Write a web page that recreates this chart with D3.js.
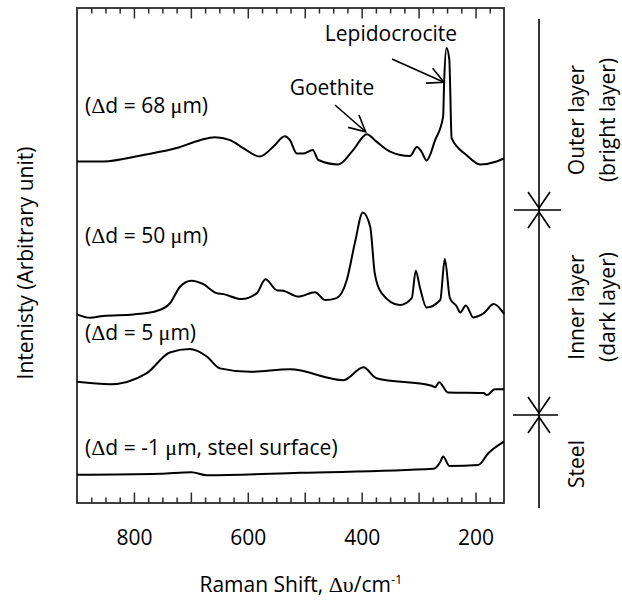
<!DOCTYPE html>
<html>
<head>
<meta charset="utf-8">
<script src="https://cdn.jsdelivr.net/npm/d3@7"></script>
<style>
  html, body { margin: 0; padding: 0; background: #fff; }
  svg { display: block; }
  text { font-family: "Open Sans", sans-serif; fill: #000; }
</style>
</head>
<body>
<svg id="chart" width="622" height="608"></svg>
<script>
// ---------------- data (Raman shift cm^-1, stacked intensity a.u.) ----------------
const seriesLabels = ["68", "50", "5", "-1"];

const spec68 = [
  [900, 69.0], [854, 69.0], [784, 70.3], [725, 71.7], [684, 73.3], [658, 73.9], [631, 73.3],
  [608, 71.7], [579, 70.0], [555, 72.0], [535, 74.1], [526, 73.3], [514, 70.6], [503, 70.6],
  [486, 71.3], [476, 69.3], [441, 68.4], [415, 71.3], [391, 74.5], [374, 73.0], [350, 71.0],
  [315, 70.1], [303, 71.9], [295, 71.0], [286, 69.2], [271, 73.3], [257, 78.0], [255, 85.5],
  [251, 91.9], [246, 89.5], [245, 86.1], [242, 73.7], [216, 70.3], [192, 68.4], [163, 69.0],
  [150, 69.6]
];

const spec50 = [
  [900, 38.1], [877, 37.4], [854, 37.8], [801, 38.1], [760, 38.8], [737, 40.3], [719, 43.7],
  [699, 44.9], [678, 44.2], [655, 42.4], [643, 42.2], [611, 41.2], [584, 42.4], [569, 45.2],
  [549, 43.0], [538, 42.9], [511, 41.7], [482, 42.6], [464, 41.0], [444, 41.4], [426, 45.1],
  [412, 52.5], [398, 58.7], [385, 55.8], [377, 46.4], [365, 42.4], [333, 40.0], [312, 41.4],
  [305, 46.9], [298, 43.7], [286, 39.5], [262, 41.0], [254, 49.3], [245, 41.4], [233, 39.7],
  [227, 38.5], [217, 39.9], [204, 37.5], [186, 38.3], [168, 40.2], [150, 38.2]
];

const spec5 = [
  [900, 24.5], [842, 24.0], [778, 26.2], [737, 30.4], [702, 31.1], [672, 29.6], [649, 27.2],
  [596, 26.5], [526, 27.0], [432, 24.8], [397, 27.4], [374, 25.2], [277, 23.7], [271, 23.4],
  [264, 24.4], [248, 22.3], [186, 22.2], [180, 21.8], [166, 23.0], [150, 23.0]
];

const specSteel = [
  [900, 5.7], [754, 5.9], [699, 6.2], [672, 5.6], [508, 6.1], [274, 6.9], [262, 8.3],
  [257, 9.4], [246, 7.5], [195, 7.7], [178, 10.0], [150, 12.4]
];

const spectra = [spec68, spec50, spec5, specSteel];

const xMajorTicks = [800, 700, 600, 500, 400, 300, 200];
const xTickLabels = [800, 600, 400, 200];
const xMinorTicks = d3.range(175, 900, 25).filter(v => v % 100 !== 0);

// ---------------- layout ----------------
const svg = d3.select("#chart");
const L = 77, R = 504, T = 8, B = 503;

const x = d3.scaleLinear().domain([900, 150]).range([L, R]);
const y = d3.scaleLinear().domain([0, 100]).range([B, T]);

const FS = 21;
const frameColor = "#2a2a2a";

// axes (ticks inward)
function styleAxis(g) {
  g.select(".domain").remove();
  g.selectAll(".tick line").attr("stroke", frameColor).attr("stroke-width", 1.5);
  g.selectAll("text").attr("font-size", FS).attr("font-family", "Open Sans, sans-serif").attr("fill", "#000");
}

svg.append("g").attr("transform", `translate(0,${B})`)
  .call(d3.axisBottom(x).tickValues(xMinorTicks).tickSize(-5.5).tickFormat(""))
  .call(styleAxis);
svg.append("g").attr("transform", `translate(0,${B})`)
  .call(d3.axisBottom(x).tickValues(xMajorTicks).tickSize(-10.5).tickPadding(27)
    .tickFormat(d => xTickLabels.includes(d) ? d : ""))
  .call(styleAxis);
svg.append("g").attr("transform", `translate(0,${T})`)
  .call(d3.axisTop(x).tickValues(xMinorTicks).tickSize(-5.5).tickFormat(""))
  .call(styleAxis);
svg.append("g").attr("transform", `translate(0,${T})`)
  .call(d3.axisTop(x).tickValues(xMajorTicks).tickSize(-10.5).tickFormat(""))
  .call(styleAxis);

// frame
svg.append("rect")
  .attr("x", L).attr("y", T).attr("width", R - L).attr("height", B - T)
  .attr("fill", "none").attr("stroke", frameColor).attr("stroke-width", 1.8);

// spectra
const line = d3.line()
  .x(d => x(d[0]))
  .y(d => y(d[1]))
  .curve(d3.curveMonotoneX);

svg.append("g").selectAll("path")
  .data(spectra)
  .join("path")
  .attr("d", line)
  .attr("fill", "none")
  .attr("stroke", "#000")
  .attr("stroke-width", 2)
  .attr("stroke-linejoin", "round");

// series labels
const labelY = [113, 243, 340, 455];
const greek = "Liberation Serif, DejaVu Serif, serif";
seriesLabels.forEach((v, i) => {
  const t = svg.append("text").attr("x", 85).attr("y", labelY[i]).attr("font-size", FS);
  t.append("tspan").text("(");
  t.append("tspan").attr("font-family", greek).attr("font-size", FS + 1).text("\u0394");
  t.append("tspan").text("d = " + v + " ");
  t.append("tspan").attr("font-family", greek).attr("font-size", FS + 1).text("\u03bc");
  t.append("tspan").text(i === 3 ? "m, steel surface)" : "m)");
});

// annotation arrows
function arrow(x1, y1, x2, y2) {
  const g = svg.append("g").attr("stroke", "#000").attr("stroke-width", 1.6).attr("fill", "none");
  g.append("line").attr("x1", x1).attr("y1", y1).attr("x2", x2).attr("y2", y2);
  const a = Math.atan2(y1 - y2, x1 - x2), len = 18, h = 27 * Math.PI / 180;
  g.append("polyline").attr("points", [
    [x2 + len * Math.cos(a + h), y2 + len * Math.sin(a + h)],
    [x2, y2],
    [x2 + len * Math.cos(a - h), y2 + len * Math.sin(a - h)]
  ].map(p => p.join(",")).join(" "));
}

svg.append("text").attr("x", 332).attr("y", 95).attr("text-anchor", "middle")
  .attr("font-size", FS).text("Goethite");
arrow(335, 105, x(393), y(75));
svg.append("text").attr("x", 391).attr("y", 41).attr("text-anchor", "middle")
  .attr("font-size", FS).text("Lepidocrocite");
arrow(392, 59, x(255.5), y(85));

// axis titles
const xt = svg.append("text").attr("x", 301).attr("y", 592).attr("text-anchor", "middle").attr("font-size", FS);
xt.append("tspan").text("Raman Shift, ");
xt.append("tspan").attr("font-family", greek).attr("font-size", FS + 1).text("\u0394\u03c5");
xt.append("tspan").text("/cm");
xt.append("tspan").attr("font-size", 13).attr("dy", -8).text("-1");

svg.append("text")
  .attr("transform", "translate(33,263) rotate(-90)")
  .attr("text-anchor", "middle").attr("font-size", FS)
  .text("Intenisty (Arbitrary unit)");

// right-side layer bracket
const rx = 539;
const rg = svg.append("g").attr("stroke", "#000").attr("stroke-width", 1.6).attr("fill", "none");
rg.append("line").attr("x1", rx).attr("x2", rx).attr("y1", 19).attr("y2", 508);
[[210, 514, 561], [415, 513, 558]].forEach(([yy, xa, xb]) => {
  rg.append("line").attr("x1", xa).attr("x2", xb).attr("y1", yy).attr("y2", yy);
  rg.append("polyline").attr("points", `${rx - 11},${yy - 18} ${rx},${yy - 2} ${rx + 11},${yy - 18}`);
  rg.append("polyline").attr("points", `${rx - 11},${yy + 18} ${rx},${yy + 2} ${rx + 11},${yy + 18}`);
});

const layerLabels = [
  { lines: ["Outer layer", "(bright layer)"], cy: 120 },
  { lines: ["Inner layer", "(dark layer)"], cy: 307 },
  { lines: ["Steel"], cy: 464 }
];
layerLabels.forEach(l => {
  l.lines.forEach((s, j) => {
    svg.append("text")
      .attr("transform", `translate(${584 + j * 31},${l.cy}) rotate(-90)`)
      .attr("text-anchor", "middle").attr("font-size", FS)
      .text(s);
  });
});
</script>
</body>
</html>
